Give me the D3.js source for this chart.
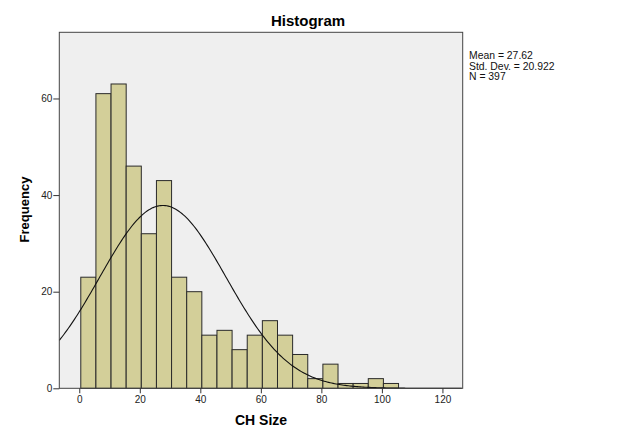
<!DOCTYPE html>
<html lang="en">
<head>
<meta charset="utf-8">
<script src="https://d3js.org/d3.v7.min.js"></script>
<style>
  body { margin: 0px; background: #fff; }
  .tick text { fill: #222; font-size: 10px; font-family: "Liberation Sans", Arial, sans-serif; }
  .tick line { stroke: #333; }
  .domain { display: none; }
  .axis-label { fill: #000; font-weight: bold; font-family: "Liberation Sans", Arial, sans-serif; }
  .stats text { fill: #111; font-size: 10.4px; font-family: "Liberation Sans", Arial, sans-serif; }
</style>
</head>
<body>
<svg width="618" height="442"></svg>
<script>
  // bins of width 5 starting at 0.5, counts
  const binStarts = [0.5, 5.5, 10.5, 15.5, 20.5, 25.5, 30.5, 35.5, 40.5, 45.5, 50.5,
                     55.5, 60.5, 65.5, 70.5, 75.5, 80.5, 85.5, 90.5, 95.5, 100.5];
  const counts = [23, 61, 63, 46, 32, 43, 23, 20, 11, 12, 8,
                  11, 14, 11, 7, 2, 5, 1, 1, 2, 1];
  const binWidth = 5;
  const xTicks = [0, 20, 40, 60, 80, 100, 120];
  const yTicks = [0, 20, 40, 60];
  const mean = 27.62, sd = 20.922, n = 397;
  const statsLines = ['Mean = 27.62', 'Std. Dev. = 20.922', 'N = 397'];

  const margin = { left: 59.3, right: 155.3, top: 32.3, bottom: 53.7 };
  const svg = d3.select('svg');
  const width = +svg.attr('width');
  const height = +svg.attr('height');
  const innerWidth = width - margin.left - margin.right;
  const innerHeight = height - margin.top - margin.bottom;

  const xScale = d3.scaleLinear().domain([-6.6, 126.7]).range([0, innerWidth]);
  const yScale = d3.scaleLinear().domain([0, 73.7]).range([innerHeight, 0]);

  const g = svg.append('g')
    .attr('transform', `translate(${margin.left},${margin.top})`);

  g.append('rect')
    .attr('width', innerWidth)
    .attr('height', innerHeight)
    .attr('fill', '#efefef');

  const bins = binStarts.map((x0, i) => ({ x0: x0, x1: x0 + binWidth, count: counts[i] }));

  g.selectAll('rect.bar').data(bins)
    .enter().append('rect')
      .attr('class', 'bar')
      .attr('x', d => xScale(d.x0))
      .attr('y', d => yScale(d.count))
      .attr('width', d => xScale(d.x1) - xScale(d.x0))
      .attr('height', d => innerHeight - yScale(d.count))
      .attr('fill', '#d3cf99')
      .attr('stroke', '#2a2a2a')
      .attr('stroke-width', 1);

  // fitted normal curve from the stated mean / sd / N
  const pdf = x => Math.exp(-0.5 * Math.pow((x - mean) / sd, 2)) / (sd * Math.sqrt(2 * Math.PI));
  const curvePts = d3.range(-6.6, 126.71, 0.5).map(x => [x, n * binWidth * pdf(x)]);
  g.append('path')
    .datum(curvePts)
    .attr('fill', 'none')
    .attr('stroke', '#111')
    .attr('stroke-width', 1.1)
    .attr('d', d3.line().x(d => xScale(d[0])).y(d => yScale(d[1])));

  g.append('rect')
    .attr('width', innerWidth)
    .attr('height', innerHeight)
    .attr('fill', 'none')
    .attr('stroke', '#444')
    .attr('stroke-width', 1);

  g.append('g')
    .attr('transform', `translate(0,${innerHeight})`)
    .call(d3.axisBottom(xScale).tickValues(xTicks).tickSize(5).tickPadding(3));

  g.append('g')
    .call(d3.axisLeft(yScale).tickValues(yTicks).tickSize(6).tickPadding(1));

  svg.append('text')
    .attr('class', 'axis-label')
    .attr('x', 308)
    .attr('y', 26)
    .attr('text-anchor', 'middle')
    .style('font-size', '15px')
    .text('Histogram');

  svg.append('text')
    .attr('class', 'axis-label')
    .attr('x', margin.left + innerWidth / 2)
    .attr('y', 425)
    .attr('text-anchor', 'middle')
    .style('font-size', '14px')
    .text('CH Size');

  svg.append('text')
    .attr('class', 'axis-label')
    .attr('transform', 'translate(29,209.5) rotate(-90)')
    .attr('text-anchor', 'middle')
    .style('font-size', '13px')
    .text('Frequency');

  svg.append('g').attr('class', 'stats')
    .selectAll('text').data(statsLines)
    .enter().append('text')
      .attr('x', 469)
      .attr('y', (d, i) => 59.3 + i * 10.4)
      .text(d => d);
</script>
</body>
</html>
